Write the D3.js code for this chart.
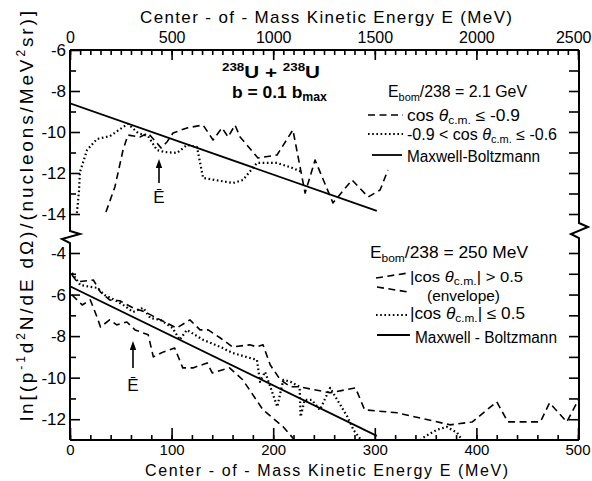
<!DOCTYPE html>
<html>
<head>
<meta charset="utf-8">
<script src="https://cdn.jsdelivr.net/npm/d3@7"></script>
<style>
  html, body { margin: 0; padding: 0; background: #fff; }
  svg { display: block; }
</style>
</head>
<body>
<svg id="chart" width="592" height="481"></svg>
<script>
// ---- Upper panel: Ebom/238 = 2.1 GeV, top energy axis (MeV) ----
const upperDashed = [[177,-13.9],[221,-12.68],[261,-10.88],[285,-10.15],[344,-10.24],[384,-10.05],
  [428,-10.54],[448,-10.78],[477,-10.49],[507,-10.05],[576,-9.8],[655,-9.66],[704,-10.39],[748,-9.8],
  [778,-10.24],[812,-9.66],[837,-10.24],[925,-11.27],[1019,-11.12],[1097,-9.9],[1157,-12.98],
  [1206,-11.37],[1294,-13.46],[1388,-12.34],[1467,-13.17],[1526,-12.83],[1565,-11.85]];
const upperDotted = [[34,-13.95],[44,-12.9],[49,-11.95],[84,-10.88],[133,-10.34],[197,-10.2],
  [285,-9.6],[335,-10.05],[384,-10.2],[428,-10.88],[467,-10.98],[527,-11.02],[576,-10.63],
  [625,-10.73],[655,-12.24],[802,-12.49],[851,-12.34],[920,-11.51],[1019,-11.51],[1083,-11.71],
  [1142,-11.95]];
const upperMB = [[0,-8.6],[1510,-13.85]];
const upperEbar = 438;

// ---- Lower panel: Ebom/238 = 250 MeV, bottom energy axis (MeV) ----
const lowerDashedHigh = [[2,-5.06],[7,-5.39],[23,-5.3],[30,-5.88],[39,-6.26],[49,-6.3],[62,-6.64],
  [74,-6.84],[89,-7.22],[105,-7.61],[118,-7.22],[128,-7.7],[136,-7.7],[148,-8.09],[160,-8.52],
  [177,-8.42],[184,-8.52],[190,-8.42],[197,-9.38],[207,-10.1],[217,-10.44],[226,-10.44],
  [256,-10.73],[281,-10.49],[290,-11.55],[322,-11.69],[374,-12.27],[396,-12.13],[420,-11.16],
  [431,-12.13],[463,-12.13],[472,-11.21],[489,-12.13],[502,-10.92]];
const lowerDashedLow = [[2,-6.02],[12,-6.5],[20,-6.26],[27,-7.13],[30,-7.56],[39,-7.22],[46,-7.46],
  [56,-7.32],[64,-7.7],[77,-7.94],[82,-9.0],[92,-8.76],[103,-8.57],[111,-9.53],[121,-9.53],
  [135,-9.29],[140,-9.77],[157,-9.53],[170,-10.1],[190,-11.55],[210,-12.37],[221,-13.0]];
const lowerDotted = [[2,-4.96],[10,-5.54],[20,-5.63],[27,-5.68],[34,-6.02],[44,-6.26],[54,-6.55],
  [62,-6.84],[72,-6.64],[79,-7.13],[89,-7.22],[101,-7.61],[108,-8.18],[115,-7.7],[131,-8.18],
  [148,-8.52],[160,-8.81],[177,-9.05],[184,-9.14],[187,-10.2],[192,-9.72],[204,-11.4],[210,-10.1],
  [217,-10.2],[226,-10.44],[227,-11.88],[231,-11.07],[238,-11.07],[246,-11.55],[256,-10.49],
  [273,-11.88],[279,-12.51],[285,-12.9],[292,-13.4],[340,-13.4],[347,-12.9],[361,-12.51],
  [371,-12.37],[381,-12.65],[386,-13.0]];
const lowerMB = [[0,-5.6],[302,-12.8]];
const lowerEbar = 62;

// ---- Axis ticks ----
const topMajor = d3.range(0, 2501, 500);
const topMinor = d3.range(0, 2501, 50);
const bottomMajor = d3.range(0, 501, 100);
const bottomMinor = d3.range(0, 501, 20);
const upperMajor = [-6, -8, -10, -12, -14];
const upperMinor = [-7, -9, -11, -13];
const lowerMajor = [-4, -6, -8, -10, -12];
const lowerMinor = [-5, -7, -9, -11];

const FONT = '"Liberation Sans", Arial, sans-serif';
const svg = d3.select("#chart").attr("font-family", FONT);

const L = 70, R = 579, T = 50, B = 440;
const xTop = d3.scaleLinear().domain([0, 2500]).range([L, 578]);
const xBot = d3.scaleLinear().domain([0, 500]).range([L, 578]);
const yU = d3.scaleLinear().domain([-6, -14]).range([T, 214]);
const yL = d3.scaleLinear().domain([-4, -13]).range([253, B]);

const defs = svg.append("defs");
defs.append("clipPath").attr("id", "clipU").append("rect")
  .attr("x", L).attr("y", T).attr("width", R - L).attr("height", 182);
defs.append("clipPath").attr("id", "clipL").append("rect")
  .attr("x", L).attr("y", 240).attr("width", R - L).attr("height", B - 240);

function styleAxis(g, size) {
  g.select(".domain").remove();
  g.selectAll("line").attr("stroke", "#000").attr("stroke-width", 1.6);
  g.selectAll("text").attr("font-size", size).attr("font-family", FONT).attr("fill", "#000");
}
const fmt = d => String(d);

// top axis
svg.append("g").attr("transform", `translate(0,${T})`)
  .call(d3.axisTop(xTop).tickValues(topMinor).tickSize(-5).tickFormat(""))
  .call(g => styleAxis(g, 16));
svg.append("g").attr("transform", `translate(0,${T})`)
  .call(d3.axisTop(xTop).tickValues(topMajor).tickSize(-10).tickPadding(7).tickFormat(fmt))
  .call(g => styleAxis(g, 16))
  .call(g => g.selectAll(".tick").filter(d => d === 2500).select("text")
    .attr("text-anchor", "end").attr("x", 13));
// bottom axis
svg.append("g").attr("transform", `translate(0,${B})`)
  .call(d3.axisBottom(xBot).tickValues(bottomMinor).tickSize(-5).tickFormat(""))
  .call(g => styleAxis(g, 16));
svg.append("g").attr("transform", `translate(0,${B})`)
  .call(d3.axisBottom(xBot).tickValues(bottomMajor).tickSize(-12).tickPadding(4).tickFormat(fmt))
  .call(g => styleAxis(g, 15))
  .call(g => g.selectAll(".tick").filter(d => d === 500).select("text")
    .attr("text-anchor", "end").attr("x", 12));
// left axis, both panels
[[yU, upperMajor, upperMinor], [yL, lowerMajor, lowerMinor]].forEach(([y, maj, min]) => {
  svg.append("g").attr("transform", `translate(${L},0)`)
    .call(d3.axisLeft(y).tickValues(min).tickSize(-6).tickFormat(""))
    .call(g => styleAxis(g, 17));
  svg.append("g").attr("transform", `translate(${L},0)`)
    .call(d3.axisLeft(y).tickValues(maj).tickSize(-10).tickPadding(4).tickFormat(fmt))
    .call(g => styleAxis(g, 17));
});
// right axis ticks
svg.append("g").attr("transform", `translate(${R},0)`)
  .call(d3.axisRight(yU).tickValues(d3.range(-7, -14.5, -1)).tickSize(-10).tickFormat(""))
  .call(g => styleAxis(g, 17));
svg.append("g").attr("transform", `translate(${R},0)`)
  .call(d3.axisRight(yL).tickValues(d3.range(-4, -12.5, -1)).tickSize(-10).tickFormat(""))
  .call(g => styleAxis(g, 17));

// frame with broken vertical axes
const frame = svg.append("g").attr("fill", "none").attr("stroke", "#000")
  .attr("stroke-width", 2).attr("stroke-linejoin", "miter");
frame.append("path").attr("d", `M${L},${T}H${R}M${L},${B}H${R}`);
frame.append("path").attr("d", `M${L},${T}V231L${L + 10},234L${L - 8},239L${L},243V${B}`);
frame.append("path").attr("d", `M${R},${T}V223L${R + 9},227L${R - 8},234L${R},238V${B}`);

// series
const lineU = d3.line().x(d => xTop(d[0])).y(d => yU(d[1]));
const lineL = d3.line().x(d => xBot(d[0])).y(d => yL(d[1]));
const DASH = "7,4.5", DOT = "1.6,2.6";

function draw(g, data, gen, style) {
  const p = g.append("path").datum(data).attr("d", gen)
    .attr("fill", "none").attr("stroke", "#000").attr("stroke-width", style.w || 1.7)
    .attr("stroke-linejoin", "round");
  if (style.dash) p.attr("stroke-dasharray", style.dash);
  return p;
}

const gU = svg.append("g").attr("clip-path", "url(#clipU)");
draw(gU, upperMB, lineU, { w: 1.8 });
draw(gU, upperDashed, lineU, { dash: DASH, w: 1.6 });
draw(gU, upperDotted, lineU, { dash: DOT, w: 2.2 });

const gL = svg.append("g").attr("clip-path", "url(#clipL)");
draw(gL, lowerMB, lineL, { w: 1.8 });
draw(gL, lowerDashedHigh, lineL, { dash: DASH, w: 1.6 });
draw(gL, lowerDashedLow, lineL, { dash: DASH, w: 1.6 });
draw(gL, lowerDotted, lineL, { dash: DOT, w: 2.2 });

// mean-energy arrows
function ebar(xp, yTip, yTail, yLabel) {
  svg.append("line").attr("x1", xp).attr("x2", xp).attr("y1", yTail).attr("y2", yTip + 6)
    .attr("stroke", "#000").attr("stroke-width", 1.6);
  svg.append("path").attr("d", `M${xp},${yTip}L${xp - 3.2},${yTip + 9}L${xp + 3.2},${yTip + 9}Z`)
    .attr("fill", "#000");
  svg.append("text").attr("x", xp).attr("y", yLabel).attr("text-anchor", "middle")
    .attr("font-size", 17).text("Ē");
}
ebar(xTop(upperEbar), yU(-11.32), yU(-12.49), yU(-13.45));
ebar(xBot(lowerEbar), yL(-8.23), yL(-9.53), yL(-10.65));

// axis titles
svg.append("text").attr("x", 140).attr("y", 23).attr("font-size", 17)
  .attr("textLength", 372).attr("lengthAdjust", "spacing")
  .text("Center - of - Mass Kinetic Energy E (MeV)");
svg.append("text").attr("x", 145).attr("y", 476).attr("font-size", 16)
  .attr("textLength", 363).attr("lengthAdjust", "spacing")
  .text("Center - of - Mass Kinetic Energy E (MeV)");

const yt = svg.append("text").attr("transform", "translate(33,216) rotate(-90)")
  .attr("text-anchor", "middle").attr("font-size", 19)
  .attr("textLength", 410).attr("lengthAdjust", "spacing");
yt.append("tspan").text("ln[(p");
yt.append("tspan").attr("font-size", 12).attr("dy", -8).text("-1");
yt.append("tspan").attr("dy", 8).text("d");
yt.append("tspan").attr("font-size", 12).attr("dy", -8).text("2");
yt.append("tspan").attr("dy", 8).text("N/dE dΩ)/(nucleons/MeV");
yt.append("tspan").attr("font-size", 12).attr("dy", -8).text("2");
yt.append("tspan").attr("dy", 8).text("sr)]");

// panel title
const t1 = svg.append("text").attr("x", 222).attr("y", 78).attr("font-size", 17)
  .attr("font-weight", "bold").attr("textLength", 98).attr("lengthAdjust", "spacingAndGlyphs");
t1.append("tspan").attr("font-size", 11).attr("dy", -7).text("238");
t1.append("tspan").attr("dy", 7).text("U + ");
t1.append("tspan").attr("font-size", 11).attr("dy", -7).text("238");
t1.append("tspan").attr("dy", 7).text("U");
const t2 = svg.append("text").attr("x", 232).attr("y", 98).attr("font-size", 17)
  .attr("font-weight", "bold").attr("textLength", 95).attr("lengthAdjust", "spacingAndGlyphs");
t2.append("tspan").text("b = 0.1 b");
t2.append("tspan").attr("font-size", 12).attr("dy", 3).text("max");

// legends
function legendText(x, y, len, parts, size) {
  const t = svg.append("text").attr("x", x).attr("y", y).attr("font-size", size || 16)
    .attr("textLength", len).attr("lengthAdjust", "spacingAndGlyphs");
  parts.forEach(p => {
    const s = t.append("tspan").text(p.t);
    if (p.sub) s.attr("font-size", 11).attr("dy", p.sub);
    if (p.back) s.attr("dy", p.back);
    if (p.it) s.attr("font-style", "italic");
  });
  return t;
}
function sample(x1, y1, x2, y2, dash, w) {
  const l = svg.append("line").attr("x1", x1).attr("y1", y1).attr("x2", x2).attr("y2", y2)
    .attr("stroke", "#000").attr("stroke-width", w || 1.6);
  if (dash) l.attr("stroke-dasharray", dash);
}

// upper legend
legendText(388, 97, 139, [{ t: "E" }, { t: "bom", sub: 4 }, { t: "/238 = 2.1 GeV", back: -4 }]);
sample(368, 115, 403, 115, DASH);
legendText(407, 121, 113, [{ t: "cos " }, { t: "θ", it: true }, { t: "c.m.", sub: 3 }, { t: " ≤ -0.9", back: -3 }]);
sample(368, 134, 403, 134, DOT, 2.2);
legendText(407, 140, 150, [{ t: "-0.9 < cos " }, { t: "θ", it: true }, { t: "c.m.", sub: 3 }, { t: " ≤ -0.6", back: -3 }]);
sample(372, 155, 402, 155, null, 1.8);
legendText(407, 162, 133, [{ t: "Maxwell-Boltzmann" }]);

// lower legend
legendText(370, 258, 158, [{ t: "E" }, { t: "bom", sub: 4 }, { t: "/238 = 250 MeV", back: -4 }]);
sample(376, 278, 408, 273, DASH);
legendText(410, 282, 113, [{ t: "|cos " }, { t: "θ", it: true }, { t: "c.m.", sub: 3 }, { t: "| > 0.5", back: -3 }], 15);
sample(377, 287, 408, 292, DASH);
legendText(427, 301, 73, [{ t: "(envelope)" }], 15);
sample(376, 315, 408, 315, DOT, 2.2);
legendText(410, 319, 115, [{ t: "|cos " }, { t: "θ", it: true }, { t: "c.m.", sub: 3 }, { t: "| ≤ 0.5", back: -3 }]);
sample(377, 335, 410, 335, null, 1.8);
legendText(415, 343, 142, [{ t: "Maxwell - Boltzmann" }]);
</script>
</body>
</html>
